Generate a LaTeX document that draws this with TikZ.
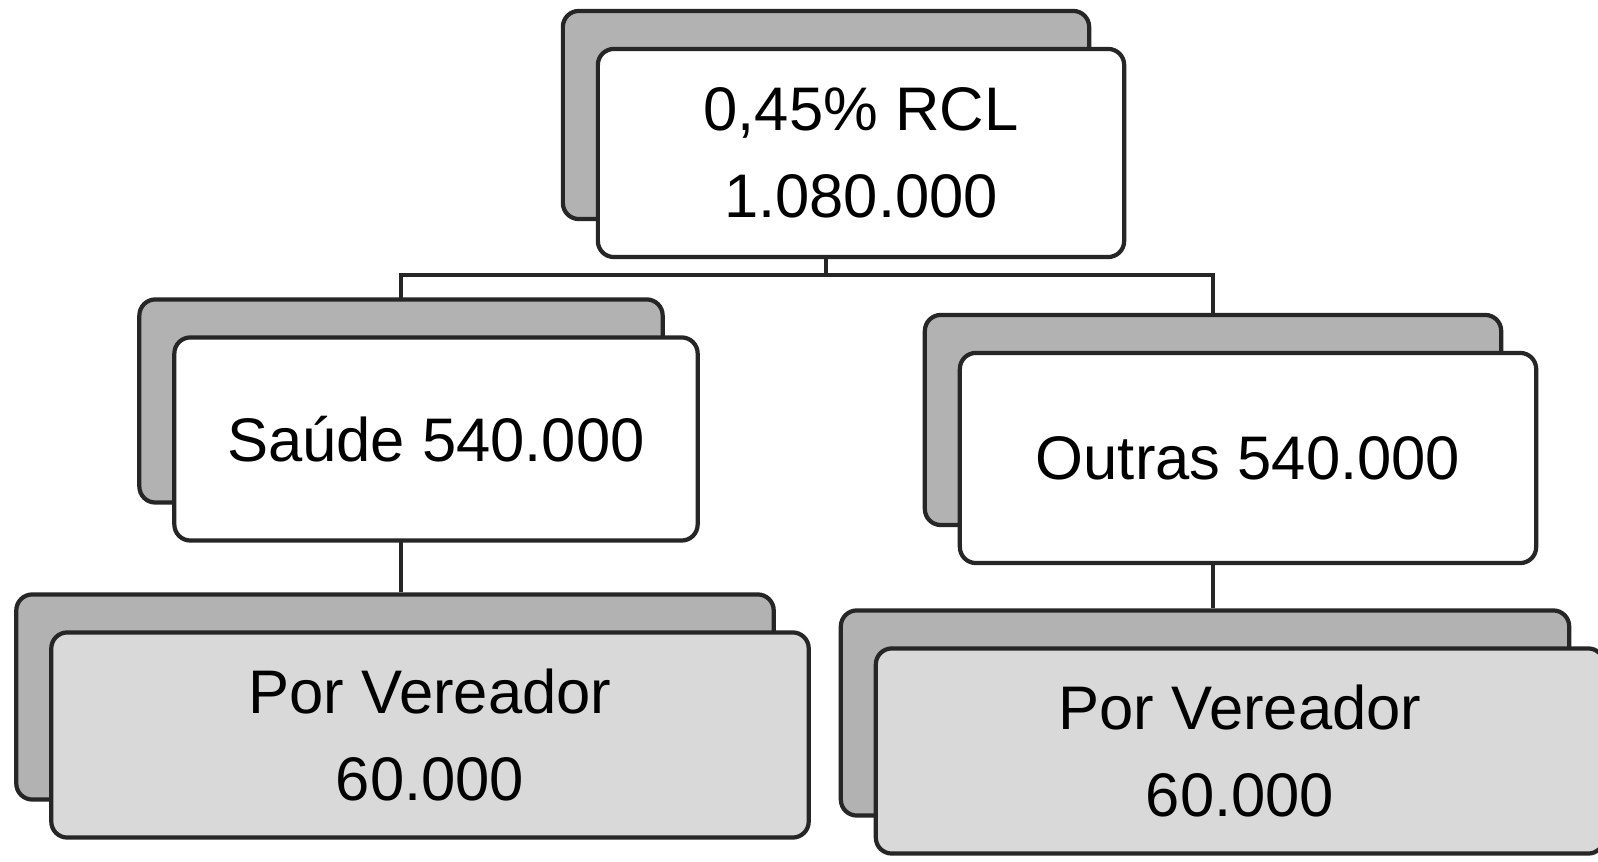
\documentclass[tikz,border=0pt]{standalone}
\usepackage{fontspec}
\setmainfont{Liberation Sans}
\usetikzlibrary{backgrounds}

\begin{document}
\begin{tikzpicture}[x=0.01cm, y=-0.01cm,
    box/.style={rectangle, rounded corners=0.16cm, draw=black!85, line width=1.2pt,
                inner sep=0pt, align=center, font=\fontsize{17.5}{24.7}\selectfont},
    backbox/.style={box, fill=black!30},
    frontbox/.style={box, fill=white},
    leafbox/.style={box, fill=black!15},
    link/.style={draw=black!85, line width=0.9pt}]
    \useasboundingbox (0,0) rectangle (1598,862);

    % top
    \node[backbox, minimum width=5.26cm, minimum height=2.08cm] (topback) at (826,115) {};
    \node[frontbox, minimum width=5.26cm, minimum height=2.08cm] (top) at (861,153) {0,45\% RCL\\1.080.000};

    % second row
    \node[backbox, minimum width=5.23cm, minimum height=2.03cm] (saudeback) at (401,401) {};
    \node[frontbox, minimum width=5.23cm, minimum height=2.03cm] (saude) at (436,439) {Saúde 540.000};
    \node[backbox, minimum width=5.76cm, minimum height=2.1cm] (outrasback) at (1213,420) {};
    \node[frontbox, minimum width=5.76cm, minimum height=2.1cm] (outras) at (1248,458) {Outras 540.000};

    % third row
    \node[backbox, minimum width=7.57cm, minimum height=2.05cm] (vleftback) at (395,697) {};
    \node[leafbox, minimum width=7.57cm, minimum height=2.05cm] (vleft) at (430,735) {Por Vereador\\60.000};
    \node[backbox, minimum width=7.28cm, minimum height=2.05cm] (vrightback) at (1205,713) {};
    \node[leafbox, minimum width=7.28cm, minimum height=2.05cm] (vright) at (1240,751) {Por Vereador\\60.000};

    % connectors
    \coordinate (bus) at (826,275);
    \begin{scope}[on background layer]
        \draw[link] (topback.center) -- (topback.center |- bus) -| (saudeback.center);
        \draw[link] (topback.center |- bus) -| (outrasback.center);
        \draw[link] (saudeback.center) -- (saudeback.center |- vleftback.north);
        \draw[link] (outrasback.center) -- (outrasback.center |- vrightback.north);
    \end{scope}
\end{tikzpicture}
\end{document}
